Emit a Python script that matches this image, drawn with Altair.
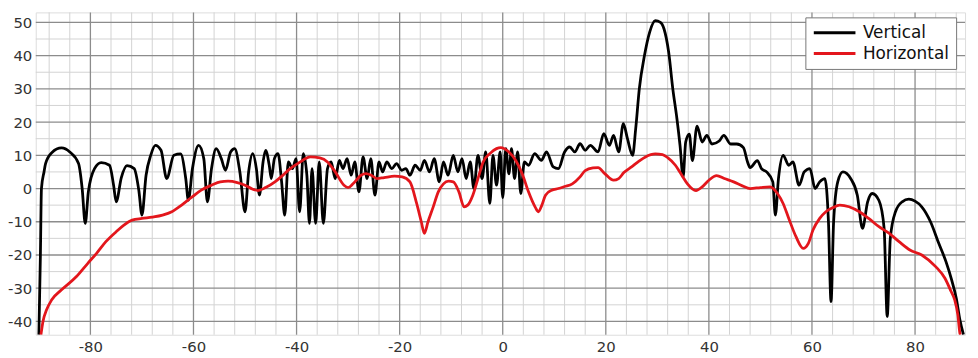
import altair as alt
import pandas as pd

# ---- data ----
black_x = [-90.0, -89.7, -89.5, -89.0, -88.7, -87.5, -85.6, -84.0, -82.3, -81.6, -81.0, -80.4, -79.2, -77.9, -76.3,
           -75.5, -75.0, -74.0, -72.9, -71.5, -70.6, -70.0, -69.2, -68.3, -67.4, -66.3, -65.2, -63.8, -62.5, -61.5,
           -61.0, -60.2, -59.0, -58.0, -57.3, -56.5, -55.6, -54.6, -53.8, -52.8, -52.0, -51.0, -50.0, -49.3, -48.5,
           -47.8, -47.2, -46.5, -46.0, -45.3, -44.9, -44.3, -43.6, -42.9, -42.3, -41.6, -40.8, -40.1, -39.4, -38.7,
           -38.0, -37.5, -37.0, -36.3, -35.6, -34.8, -34.0, -33.3, -32.5, -31.7, -31.0, -30.2, -29.4, -28.7, -27.9,
           -27.1, -26.3, -25.6, -24.8, -24.0, -23.3, -22.5, -21.5, -20.6, -19.6, -18.8, -18.0, -17.0, -16.0, -15.2,
           -14.2, -13.3, -12.3, -11.5, -10.6, -9.6, -8.7, -7.9, -7.1, -6.3, -5.6, -4.8, -4.0, -3.3, -2.5,
           -1.9, -1.2, -0.5, 0.0, 0.6, 1.2, 1.7, 2.3, 2.9, 3.5, 4.2, 5.0, 6.2, 7.5, 8.5,
           9.8, 10.8, 12.0, 13.0, 14.0, 15.0, 16.0, 17.0, 18.5, 19.6, 20.7, 21.5, 22.5, 23.4, 24.2,
           25.2, 25.8, 26.5, 27.5, 28.5, 29.6, 30.6, 31.3, 32.2, 33.0, 33.8, 34.4, 35.0, 35.5, 36.2,
           36.8, 37.7, 38.7, 39.6, 40.6, 42.0, 42.9, 44.2, 45.4, 46.7, 47.5, 48.0, 49.4, 50.2, 51.2,
           52.4, 52.9, 53.5, 54.4, 55.5, 56.3, 57.5, 58.5, 59.6, 60.6, 61.5, 62.5, 63.2, 63.7, 64.2,
           65.0, 66.0, 67.5, 68.8, 69.8, 70.8, 71.7, 73.0, 74.0, 74.6, 75.2, 76.2, 77.5, 78.8, 80.0,
           81.3, 83.0, 84.6, 86.0, 87.1, 88.0, 88.7, 89.4]
black_y = [-44, -20, 0, 5, 7.5, 10.8, 12.2, 11, 7.5, 0, -10.5, -1, 6, 7.8, 7,
           1, -4, 3.3, 6.9, 6, -0.6, -8, 4, 10, 13, 11.5, 3, 10, 10.4, 3,
           -3.5, 6, 13, 9, -4, 6, 12, 9, 5.5, 11, 12, 5, -7, 5, 10.5,
           6, -2, 8, 11.5, 7, 3, 9, 10.5, 2, -8, 8, 6, 9, -7, 10.5,
           4, -10.5, 6, -10.5, 8, -10.5, 6, 8, 3, 8.5, 6, 9, 4, 8, -1,
           9.5, 3, 9, -2, 8, 5, 8, 6, 7.5, 5.5, 6, 4, 7, 5.5, 8.5,
           5, 9, 2, 8, 4, 10, 5, 9, 3, 8, 0, 10, 3, 11, -4.5,
           10, 1, 11, -2.7, 12, 4.4, 12, 3, 11, -1.5, 8, 7, 10.5, 8.5, 11,
           6.5, 6, 11, 12.5, 11, 13.5, 11.5, 13, 11, 16.5, 13, 16, 11, 19.5, 15,
           10, 18, 30, 40, 47, 50.5, 50, 48, 41, 30, 21, 13, 3.5, 14, 16.4,
           8.4, 18.8, 14, 16, 13.4, 14.3, 16, 13.4, 13.4, 12.3, 8, 6.3, 8.4, 6, 5,
           2, -8, 3, 10, 7, 8, 1, 5, 6, 0, 2, 3, -10, -34, -10,
           2, 5, 3, -2, -12, -4, -1.5, -3.6, -12, -38.5, -15, -7, -4, -3.2, -3.8,
           -5.5, -10, -16.5, -22, -27.5, -33, -39.5, -44]

red_x = [-89.6, -89.2, -88.5, -87.5, -85.6, -82.7, -80.5, -78.8, -77.0, -75.0, -73.5, -71.9, -70.0, -68.0, -66.0,
         -64.2, -62.3, -60.4, -58.5, -56.5, -54.8, -53.3, -51.5, -50.0, -48.5, -47.5, -46.0, -44.2, -42.8, -41.7,
         -39.5, -37.3, -35.5, -34.0, -32.5, -30.8, -30.0, -29.0, -27.5, -26.5, -25.5, -24.4, -23.0, -21.0, -19.5,
         -18.0, -16.7, -15.8, -15.2, -14.5, -13.5, -12.5, -11.5, -10.5, -9.6, -8.5, -7.5, -6.8, -5.8, -4.8,
         -3.8, -2.5, -1.2, -0.4, 1.2, 2.5, 3.8, 5.0, 6.3, 6.9, 7.6, 8.3, 9.5, 10.8, 12.0,
         13.5, 15.0, 16.0, 17.5, 18.5, 19.8, 21.5, 22.5, 23.5, 25.0, 26.5, 27.7, 29.6, 31.0, 32.0,
         33.5, 34.6, 35.8, 37.5, 38.7, 40.0, 41.5, 43.0, 44.8, 46.5, 48.0, 50.0, 51.9, 53.3, 54.4,
         55.5, 56.9, 58.3, 59.3, 60.2, 61.5, 62.7, 64.0, 65.4, 67.2, 69.2, 71.0, 73.0, 75.0, 76.9,
         79.0, 81.3, 84.0, 85.8, 87.0, 87.7, 88.3, 88.7, 88.8]
red_y = [-44, -40, -36.5, -33.5, -30.5, -26.5, -22.5, -19.5, -16, -13, -11, -9.5, -9, -8.6, -8,
         -7, -5, -2.7, -0.5, 1, 2, 2.2, 1.8, 1, -0.2, -0.6, 0.3, 2, 3.8, 5.4,
         7.8, 9.5, 9.2, 8, 5, 1, 0.3, 1.5, 4, 4.5, 4, 3, 3.3, 3.7, 3.5,
         2, -4.5, -10, -13.5, -10, -5.6, -1, 1.4, 2.2, 2, -1, -5.5, -5, -2, 3,
         8, 10.5, 12, 12.3, 11, 8.5, 4.4, -1, -5.6, -7, -5, -2, -0.5, 0, 0.6,
         1.4, 3.5, 5.4, 6.2, 6.3, 4.5, 2.5, 3, 4.8, 6.5, 8.3, 9.5, 10.4, 10.2, 9.3,
         7, 4.4, 1.5, -0.6, 0.5, 2.5, 3.9, 3, 2, 0.8, 0, 0.3, 0.5, -1.5, -4.5,
         -9, -14.5, -18, -16.5, -12.5, -9, -7, -5.8, -5, -5.5, -7, -9, -11.5, -13.5, -16,
         -18.5, -20, -23.5, -27, -31, -33.5, -38, -43.5, -44]

series_names = ["Vertical", "Horizontal"]
series_colors = ["#000000", "#e3161c"]

x_major = [-80, -60, -40, -20, 0, 20, 40, 60, 80]
y_major = [-40, -30, -20, -10, 0, 10, 20, 30, 40, 50]
x_minor = [v for v in range(-88, 90, 4) if v % 20 != 0]
y_minor = [v for v in range(-40, 53, 5) if v % 10 != 0]

X_DOMAIN = [-90.6, 89.7]
Y_DOMAIN = [-44, 53]

df_black = pd.DataFrame({"angle": black_x, "gain": black_y, "series": series_names[0]})
df_red = pd.DataFrame({"angle": red_x, "gain": red_y, "series": series_names[1]})

xs = alt.Scale(domain=X_DOMAIN, nice=False, zero=False)
ys = alt.Scale(domain=Y_DOMAIN, nice=False, zero=False)

FONT = "DejaVu Sans"
x_axis = alt.Axis(values=x_major, grid=False, domain=False, ticks=False, labelFontSize=15,
                  labelColor="#333333", labelFont=FONT, labelPadding=5, title=None,
                  labelExpr="replace(datum.label, '−', '-')")
y_axis = alt.Axis(values=y_major, grid=False, domain=False, ticks=False, labelFontSize=15,
                  labelColor="#333333", labelFont=FONT, labelPadding=4, title=None,
                  labelExpr="replace(datum.label, '−', '-')")

minor_v = alt.Chart(pd.DataFrame({"v": x_minor})).mark_rule(color="#d2d2d2", strokeWidth=1).encode(
    x=alt.X("v:Q", scale=xs, axis=x_axis))
minor_h = alt.Chart(pd.DataFrame({"v": y_minor})).mark_rule(color="#d2d2d2", strokeWidth=1).encode(
    y=alt.Y("v:Q", scale=ys, axis=y_axis))
major_v = alt.Chart(pd.DataFrame({"v": x_major})).mark_rule(color="#8c8c8c", strokeWidth=1.3).encode(
    x=alt.X("v:Q", scale=xs, axis=x_axis))
major_h = alt.Chart(pd.DataFrame({"v": y_major})).mark_rule(color="#8c8c8c", strokeWidth=1.3).encode(
    y=alt.Y("v:Q", scale=ys, axis=y_axis))

color = alt.Color("series:N", scale=alt.Scale(domain=series_names, range=series_colors),
                  legend=alt.Legend(title=None, orient="none", legendX=776, legendY=5,
                                    symbolType="M-1,0H5", symbolSize=196, symbolStrokeWidth=3,
                                    labelFontSize=17, labelFont=FONT, labelColor="#111111",
                                    strokeColor="#777777", fillColor="white", padding=7,
                                    rowPadding=3, labelOffset=34))

line_black = alt.Chart(df_black).mark_line(strokeWidth=2.8, interpolate="monotone", clip=True).encode(
    x=alt.X("angle:Q", scale=xs, axis=x_axis),
    y=alt.Y("gain:Q", scale=ys, axis=y_axis),
    color=color)
line_red = alt.Chart(df_red).mark_line(strokeWidth=2.8, interpolate="monotone", clip=True).encode(
    x=alt.X("angle:Q", scale=xs, axis=x_axis),
    y=alt.Y("gain:Q", scale=ys, axis=y_axis),
    color=color)

chart = alt.layer(minor_v, minor_h, major_v, major_h, line_black, line_red).properties(
    width=937, height=325,
    autosize=alt.AutoSizeParams(type="none"),
    padding={"left": 28, "top": 3, "right": 5, "bottom": 20},
).configure_view(stroke="#666666", strokeWidth=1.2).configure(background="white")

chart.save("out.html", embed_options={"renderer": "svg", "actions": False})
